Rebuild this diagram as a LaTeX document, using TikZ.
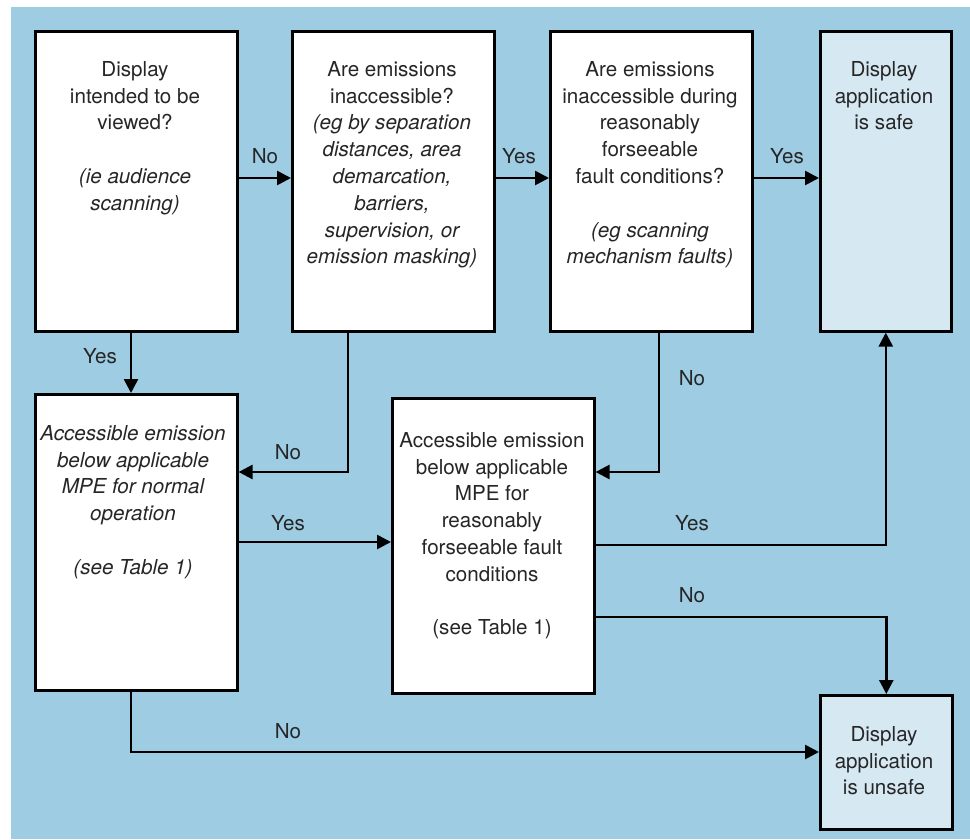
\documentclass[tikz,border=0pt]{standalone}
\usepackage{fontspec}
\setmainfont{TeX Gyre Heros}
\usetikzlibrary{arrows.meta}
\definecolor{bgblue}{HTML}{9DCCE3}
\definecolor{lightbox}{HTML}{D6E9F3}
\definecolor{txt}{HTML}{262626}
\begin{document}
\begin{tikzpicture}[x=1pt,y=-1pt,
  box/.style={draw=black,line width=2.6pt,fill=white,inner sep=0pt,anchor=north west},
  endbox/.style={box,fill=lightbox},
  txtnode/.style={anchor=north,align=center,inner sep=0pt,text=txt,font=\fontsize{20.6}{26.8}\selectfont},
  lbl/.style={anchor=base,inner sep=0pt,text=txt,font=\fontsize{20.6}{26.8}\selectfont},
  arr/.style={line width=2.6pt,-{Triangle[length=14pt,width=14pt]}},
  ln/.style={line width=2.6pt}]
\useasboundingbox (0,0) rectangle (970,839);
\fill[white] (0,0) rectangle (970,839);
\fill[bgblue] (11,7) rectangle (970,839);
% boxes
\node[box,minimum width=202pt,minimum height=300pt] (b1) at (34,30) {};
\node[box,minimum width=202pt,minimum height=300pt] (b2) at (291,30) {};
\node[box,minimum width=202pt,minimum height=300pt] (b3) at (549,30) {};
\node[endbox,minimum width=131pt,minimum height=300pt] (b4) at (819,30) {};
\node[box,minimum width=202pt,minimum height=296pt] (b5) at (34,393) {};
\node[box,minimum width=202pt,minimum height=295pt] (b6) at (391,397) {};
\node[endbox,minimum width=132pt,minimum height=134pt] (b7) at (819,694) {};
% texts
\node[txtnode] (t1) at (135,61) {\rule{0pt}{15pt}Display\\intended to be\\viewed?\\[26.8pt]\itshape (ie audience\\\itshape scanning)};
\node[txtnode] (t2) at (392,61) {\rule{0pt}{15pt}Are emissions\\inaccessible?\\\itshape (eg by separation\\\itshape distances, area\\\itshape demarcation,\\\itshape barriers,\\\itshape supervision, or\\\itshape emission masking)};
\node[txtnode] (t3) at (650,61) {\rule{0pt}{15pt}Are emissions\\inaccessible during\\reasonably\\forseeable\\fault conditions?\\[26.8pt]\itshape (eg scanning\\\itshape mechanism faults)};
\node[txtnode] (t4) at (884,61) {\rule{0pt}{15pt}Display\\application\\is safe};
\node[txtnode] (t5) at (133,425) {\itshape\rule{0pt}{15pt}Accessible emission\\\itshape below applicable\\\itshape MPE for normal\\\itshape operation\\[26.8pt]\itshape (see Table 1)};
\node[txtnode] (t6) at (492,432) {\rule{0pt}{15pt}Accessible emission\\below applicable\\MPE for\\reasonably\\forseeable fault\\conditions\\[26.8pt](see Table 1)};
\node[txtnode] (t7) at (884,726) {\rule{0pt}{15pt}Display\\application\\is unsafe};
% connectors
\draw[arr] (b1.east |- 0,178) -- (b2.west |- 0,178);
\draw[arr] (b2.east |- 0,178) -- (b3.west |- 0,178);
\draw[arr] (b3.east |- 0,178) -- (b4.west |- 0,178);
\draw[arr] (b1.south -| 131,0) -- (b5.north -| 131,0);
\draw[arr] (b2.south -| 348,0) |- (b5.east |- 0,472);
\draw[arr] (b3.south -| 659,0) |- (b6.east |- 0,472);
\draw[arr] (b5.east |- 0,542) -- (b6.west |- 0,542);
\draw[arr] (b6.east |- 0,545) -| (b4.south);
\draw[arr] (b6.east |- 0,617) -| (b7.north);
\draw[arr] (b5.south -| 131,0) |- (b7.west |- 0,752);
% labels
\node[lbl] (l1) at (265,163) {No};
\node[lbl] (l2) at (519,163) {Yes};
\node[lbl] (l3) at (787,163) {Yes};
\node[lbl] (l4) at (100,363) {Yes};
\node[lbl] (l5) at (288,459) {No};
\node[lbl] (l6) at (692,385) {No};
\node[lbl] (l7) at (288,530) {Yes};
\node[lbl] (l8) at (692,530) {Yes};
\node[lbl] (l9) at (692,602) {No};
\node[lbl] (l10) at (288,738) {No};
\end{tikzpicture}
\end{document}
